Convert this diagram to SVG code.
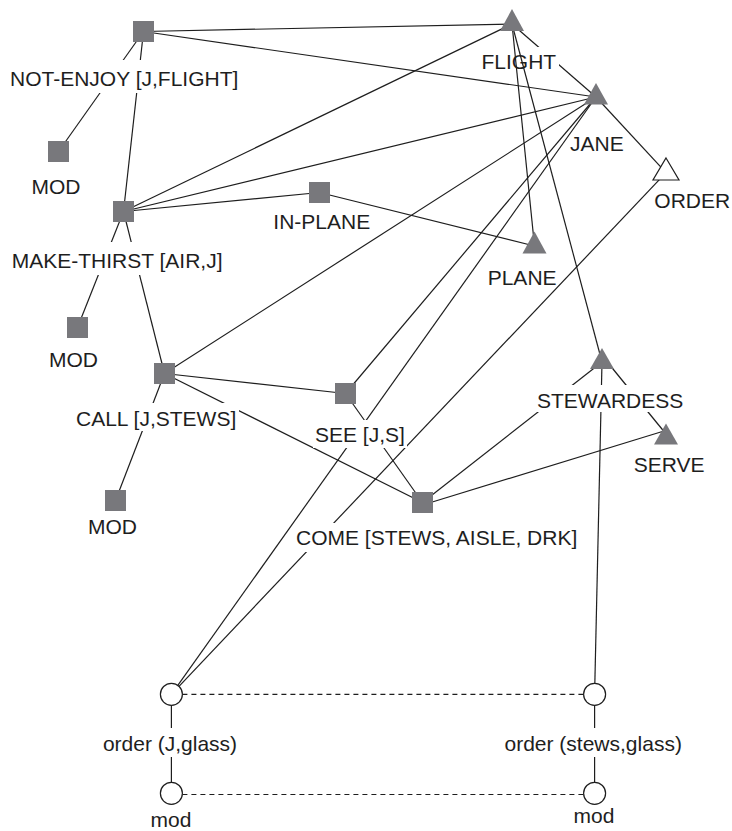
<svg xmlns="http://www.w3.org/2000/svg" width="732" height="831" viewBox="0 0 732 831">
<style>
.e{stroke:#1e1e1e;stroke-width:1.2;fill:none}
.d{stroke:#1e1e1e;stroke-width:1.2;fill:none;stroke-dasharray:5 4}
.sq,.tr{fill:#78787c}
.to{fill:#fff;stroke:#1e1e1e;stroke-width:1.2}
.ci{fill:#fff;stroke:#1e1e1e;stroke-width:1.2}
.bg{fill:#fff}
text{font-family:"Liberation Sans",Arial,sans-serif;font-size:21px;fill:#1e1e1e}
.m{text-anchor:middle}
</style>
<rect width="732" height="831" fill="#fff"/>
<g id="connectors">
<line class="e" x1="143.5" y1="31.5" x2="512" y2="24"/>
<line class="e" x1="143.5" y1="31.5" x2="596" y2="97"/>
<line class="e" x1="143.5" y1="31.5" x2="58.5" y2="151.5"/>
<line class="e" x1="143.5" y1="31.5" x2="123.5" y2="211.5"/>
<line class="e" x1="123.5" y1="211.5" x2="512" y2="24"/>
<line class="e" x1="123.5" y1="211.5" x2="596" y2="97"/>
<line class="e" x1="123.5" y1="211.5" x2="319.5" y2="192.5"/>
<line class="e" x1="123.5" y1="211.5" x2="77.5" y2="327.5"/>
<line class="e" x1="123.5" y1="211.5" x2="164.5" y2="373.5"/>
<line class="e" x1="319.5" y1="192.5" x2="534.5" y2="246"/>
<line class="e" x1="164.5" y1="373.5" x2="596" y2="97"/>
<line class="e" x1="164.5" y1="373.5" x2="345.5" y2="393.5"/>
<line class="e" x1="164.5" y1="373.5" x2="422.5" y2="502.5"/>
<line class="e" x1="164.5" y1="373.5" x2="115.5" y2="500.5"/>
<line class="e" x1="345.5" y1="393.5" x2="596" y2="97"/>
<line class="e" x1="345.5" y1="393.5" x2="422.5" y2="502.5"/>
<line class="e" x1="422.5" y1="502.5" x2="602" y2="362"/>
<line class="e" x1="422.5" y1="505" x2="664" y2="431"/>
<line class="e" x1="512" y1="24" x2="596" y2="97"/>
<line class="e" x1="596" y1="97" x2="666" y2="172.7"/>
<line class="e" x1="604" y1="358" x2="666" y2="434"/>
<line class="e" x1="602" y1="362" x2="594.6" y2="694.3"/>
<line class="e" x1="171.4" y1="694.3" x2="596" y2="97"/>
<line class="e" x1="171.4" y1="694.3" x2="666" y2="172.7"/>
<line class="e" x1="171.4" y1="694.3" x2="171.4" y2="793.3"/>
<line class="e" x1="594.6" y1="694.3" x2="594.6" y2="793.3"/>
<line class="d" x1="182.4" y1="694.3" x2="583.6" y2="694.3"/>
<line class="d" x1="182.4" y1="794.5" x2="583.6" y2="794.5"/>
<line class="e" x1="512" y1="24" x2="534.5" y2="246"/>
<line class="e" x1="512" y1="24" x2="602" y2="362"/>
</g>
<g id="n-not-enjoy"><rect class="sq" x="133" y="21" width="21" height="21"/><rect class="bg" x="8" y="60" width="234" height="33"/><text x="10" y="86">NOT-ENJOY [J,FLIGHT]</text></g>
<g id="n-mod1"><rect class="sq" x="48" y="141" width="21" height="21"/><text class="m" x="56" y="194">MOD</text></g>
<g id="n-make-thirst"><rect class="sq" x="113" y="201" width="21" height="21"/><rect class="bg" x="10" y="242" width="215" height="33"/><text x="11.7" y="268">MAKE-THIRST [AIR,J]</text></g>
<g id="n-in-plane"><rect class="sq" x="309" y="182" width="21" height="21"/><text x="273.3" y="229">IN-PLANE</text></g>
<g id="n-mod2"><rect class="sq" x="67" y="317" width="21" height="21"/><text class="m" x="73.5" y="366.7">MOD</text></g>
<g id="n-call"><rect class="sq" x="154" y="363" width="21" height="21"/><rect class="bg" x="74" y="403" width="165" height="28"/><text x="76" y="425.7">CALL [J,STEWS]</text></g>
<g id="n-see"><rect class="sq" x="335" y="383" width="21" height="21"/><rect class="bg" x="313" y="420" width="94" height="28"/><text x="315" y="441.7">SEE [J,S]</text></g>
<g id="n-mod3"><rect class="sq" x="105" y="490" width="21" height="21"/><text class="m" x="112.5" y="534">MOD</text></g>
<g id="n-come"><rect class="sq" x="412" y="492" width="21" height="21"/><rect class="bg" x="294" y="523" width="287" height="29"/><text x="296" y="545">COME [STEWS, AISLE, DRK]</text></g>
<g id="n-flight"><polygon class="tr" points="512,9 524,31 500,31"/><rect class="bg" x="529" y="47" width="30" height="28"/><text x="481.5" y="69">FLIGHT</text></g>
<g id="n-jane"><polygon class="tr" points="596,83 608,104.5 584,104.5"/><text x="570" y="151">JANE</text></g>
<g id="n-order"><polygon class="to" points="666,158 679,180 653,180"/><text x="654.3" y="208.3">ORDER</text></g>
<g id="n-plane"><polygon class="tr" points="534.5,231.5 546.5,253.5 522.5,253.5"/><text x="487.7" y="285">PLANE</text></g>
<g id="n-stewardess"><polygon class="tr" points="602,348 614,369 590,369"/><rect class="bg" x="535" y="385" width="151" height="27"/><text x="537" y="408.3">STEWARDESS</text></g>
<g id="n-serve"><polygon class="tr" points="666,423.5 678,444.5 654,444.5"/><text x="633.7" y="471.7">SERVE</text></g>
<g id="n-order-j"><circle class="ci" cx="171.4" cy="694.3" r="11"/><rect class="bg" x="101" y="728" width="138" height="29"/><text x="102.9" y="750.7">order (J,glass)</text></g>
<g id="n-order-s"><circle class="ci" cx="594.6" cy="694.3" r="11"/><rect class="bg" x="502" y="728" width="182" height="29"/><text x="504.5" y="750.7">order (stews,glass)</text></g>
<g id="n-mod-l"><circle class="ci" cx="171.4" cy="793.3" r="11"/><text class="m" x="171" y="827.3">mod</text></g>
<g id="n-mod-r"><circle class="ci" cx="594.6" cy="793.3" r="11"/><text class="m" x="594" y="822.7">mod</text></g>
</svg>
